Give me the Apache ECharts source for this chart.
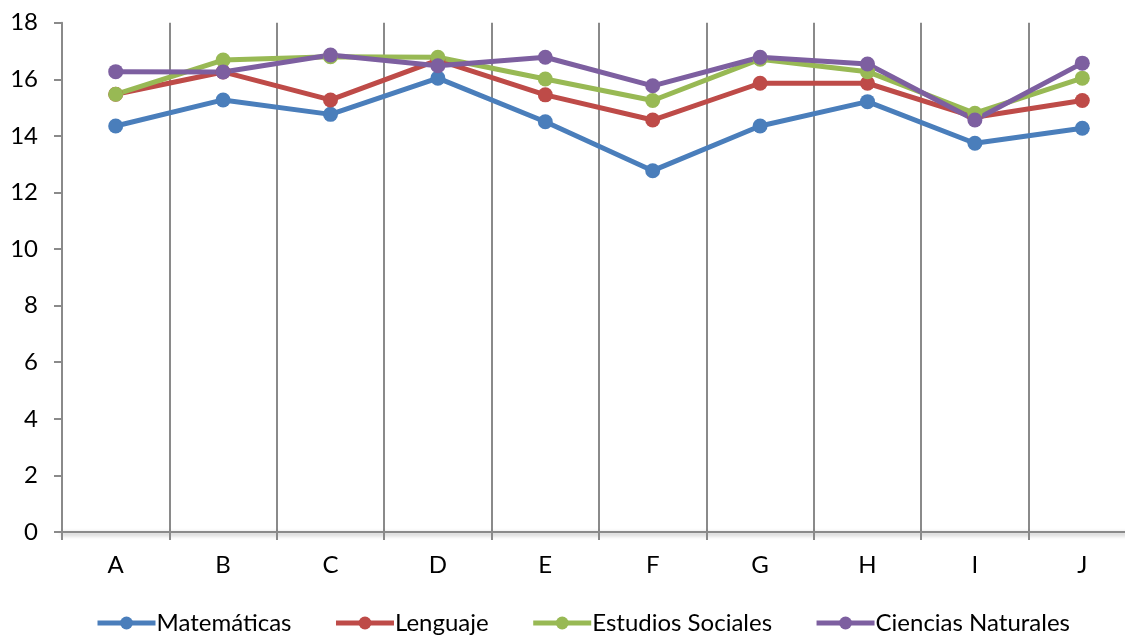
<!DOCTYPE html>
<html>
<head>
<meta charset="utf-8">
<script src="https://cdn.jsdelivr.net/npm/echarts@6/dist/echarts.min.js"></script>
<style>
html,body{margin:0;padding:0;background:#fff;}
#c{width:1125px;height:635px;}
</style>
</head>
<body>
<div id="c"></div>
<script>
const categories = ['A','B','C','D','E','F','G','H','I','J'];
const matematicas = [14.35, 15.27, 14.76, 16.04, 14.50, 12.77, 14.35, 15.21, 13.74, 14.27];
const lenguaje = [15.47, 16.26, 15.27, 16.68, 15.45, 14.56, 15.86, 15.86, 14.66, 15.25];
const estudiosSociales = [15.47, 16.68, 16.80, 16.78, 16.01, 15.25, 16.71, 16.27, 14.80, 16.04];
const cienciasNaturales = [16.27, 16.26, 16.86, 16.48, 16.78, 15.77, 16.78, 16.54, 14.56, 16.57];
const seriesNames = ['Matemáticas','Lenguaje','Estudios Sociales','Ciencias Naturales'];
const colors = ['#4A7EBB','#BE4B48','#98B954','#7D5FA0'];

const font = 'Lato, "Open Sans", sans-serif';
const chart = echarts.init(document.getElementById('c'));
const data = [matematicas, lenguaje, estudiosSociales, cienciasNaturales];

chart.setOption({
  animation: false,
  color: colors,
  grid: { left: 62, top: 22.7, right: -11, bottom: 103, containLabel: false, outerBoundsMode: 'none' },
  legend: {
    left: 90, top: 606,
    itemWidth: 58, itemHeight: 16, itemGap: 42,
    lineStyle: { width: 5 },
    textStyle: { fontFamily: font, fontSize: 24, color: '#000', padding: [0,0,0,-4] },
    data: seriesNames
  },
  xAxis: {
    type: 'category', data: categories, boundaryGap: true,
    axisLine: { lineStyle: { color: '#8a8a8a', width: 2, shadowColor: 'rgba(0,0,0,0.35)', shadowBlur: 4, shadowOffsetY: 2 } },
    axisTick: { show: true, length: 8, lineStyle: { color: '#8a8a8a', width: 2 } },
    axisLabel: { fontFamily: font, fontSize: 24, color: '#000', margin: 21 },
    splitLine: { show: true, lineStyle: { color: '#8a8a8a', width: 2 } }
  },
  yAxis: {
    type: 'value', min: 0, max: 18, interval: 2,
    axisLine: { show: true, lineStyle: { color: '#8a8a8a', width: 2 } },
    axisTick: { show: true, length: 8, lineStyle: { color: '#8a8a8a', width: 2 } },
    axisLabel: { fontFamily: font, fontSize: 24, color: '#000', margin: 24 },
    splitLine: { show: false }
  },
  series: data.map((d, i) => ({
    name: seriesNames[i], type: 'line', data: d,
    symbol: 'circle', symbolSize: 15,
    lineStyle: { width: 5, color: colors[i] },
    itemStyle: { color: colors[i] }
  }))
});
</script>
</body>
</html>
